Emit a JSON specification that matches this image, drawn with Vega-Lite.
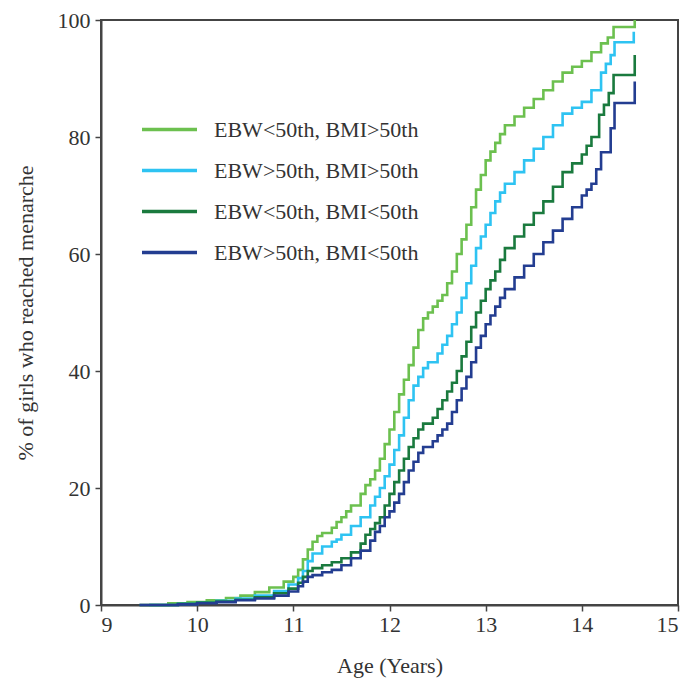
{
  "$schema": "https://vega.github.io/schema/vega-lite/v6.json",
  "width": 577,
  "height": 585,
  "autosize": {"type": "none"},
  "padding": {"left": 101, "top": 20, "right": 7, "bottom": 78},
  "background": "white",
  "config": {
    "view": {"stroke": "#444", "strokeWidth": 2},
    "axis": {
      "grid": false,
      "labelFont": "Liberation Serif",
      "titleFont": "Liberation Serif",
      "labelFontSize": 22,
      "titleFontSize": 22,
      "titleFontWeight": "normal",
      "labelColor": "#333",
      "titleColor": "#333",
      "domainColor": "#444",
      "domainWidth": 2,
      "tickColor": "#444",
      "tickWidth": 1.5,
      "tickSize": 6
    },
    "legend": {
      "orient": "none",
      "legendX": 39,
      "legendY": 80,
      "symbolType": "stroke",
      "symbolSize": 3025,
      "symbolStrokeWidth": 3.5,
      "labelFont": "Liberation Serif",
      "labelFontSize": 22,
      "labelColor": "#333",
      "labelLimit": 500,
      "rowPadding": -14,
      "labelOffset": 15
    }
  },
  "data": {
    "values": [
      {"g": "EBW<50th, BMI>50th", "age": 9.5, "pct": 0},
      {"g": "EBW<50th, BMI>50th", "age": 9.7, "pct": 0.3},
      {"g": "EBW<50th, BMI>50th", "age": 9.9, "pct": 0.5},
      {"g": "EBW<50th, BMI>50th", "age": 10.1, "pct": 0.8},
      {"g": "EBW<50th, BMI>50th", "age": 10.3, "pct": 1.2},
      {"g": "EBW<50th, BMI>50th", "age": 10.45, "pct": 1.6},
      {"g": "EBW<50th, BMI>50th", "age": 10.6, "pct": 2.2},
      {"g": "EBW<50th, BMI>50th", "age": 10.75, "pct": 3.0},
      {"g": "EBW<50th, BMI>50th", "age": 10.9, "pct": 4.0},
      {"g": "EBW<50th, BMI>50th", "age": 11.0, "pct": 4.8},
      {"g": "EBW<50th, BMI>50th", "age": 11.05, "pct": 6},
      {"g": "EBW<50th, BMI>50th", "age": 11.1, "pct": 7.8},
      {"g": "EBW<50th, BMI>50th", "age": 11.15, "pct": 9.5},
      {"g": "EBW<50th, BMI>50th", "age": 11.2, "pct": 10.8},
      {"g": "EBW<50th, BMI>50th", "age": 11.25, "pct": 11.8},
      {"g": "EBW<50th, BMI>50th", "age": 11.3, "pct": 12.3},
      {"g": "EBW<50th, BMI>50th", "age": 11.4, "pct": 13.2},
      {"g": "EBW<50th, BMI>50th", "age": 11.45, "pct": 14.2},
      {"g": "EBW<50th, BMI>50th", "age": 11.5, "pct": 15},
      {"g": "EBW<50th, BMI>50th", "age": 11.55, "pct": 16},
      {"g": "EBW<50th, BMI>50th", "age": 11.6, "pct": 17},
      {"g": "EBW<50th, BMI>50th", "age": 11.7, "pct": 19},
      {"g": "EBW<50th, BMI>50th", "age": 11.75, "pct": 20.5},
      {"g": "EBW<50th, BMI>50th", "age": 11.8, "pct": 21.5},
      {"g": "EBW<50th, BMI>50th", "age": 11.85, "pct": 23},
      {"g": "EBW<50th, BMI>50th", "age": 11.9, "pct": 25},
      {"g": "EBW<50th, BMI>50th", "age": 11.95, "pct": 27.5},
      {"g": "EBW<50th, BMI>50th", "age": 12.0, "pct": 30},
      {"g": "EBW<50th, BMI>50th", "age": 12.05, "pct": 33},
      {"g": "EBW<50th, BMI>50th", "age": 12.1, "pct": 36},
      {"g": "EBW<50th, BMI>50th", "age": 12.15, "pct": 38.5},
      {"g": "EBW<50th, BMI>50th", "age": 12.2, "pct": 41},
      {"g": "EBW<50th, BMI>50th", "age": 12.25, "pct": 44},
      {"g": "EBW<50th, BMI>50th", "age": 12.3, "pct": 47},
      {"g": "EBW<50th, BMI>50th", "age": 12.35, "pct": 49},
      {"g": "EBW<50th, BMI>50th", "age": 12.4, "pct": 50},
      {"g": "EBW<50th, BMI>50th", "age": 12.45, "pct": 51},
      {"g": "EBW<50th, BMI>50th", "age": 12.5, "pct": 52},
      {"g": "EBW<50th, BMI>50th", "age": 12.55, "pct": 53},
      {"g": "EBW<50th, BMI>50th", "age": 12.6, "pct": 55},
      {"g": "EBW<50th, BMI>50th", "age": 12.65, "pct": 57},
      {"g": "EBW<50th, BMI>50th", "age": 12.7, "pct": 60},
      {"g": "EBW<50th, BMI>50th", "age": 12.75, "pct": 62.5},
      {"g": "EBW<50th, BMI>50th", "age": 12.8, "pct": 65},
      {"g": "EBW<50th, BMI>50th", "age": 12.85, "pct": 68},
      {"g": "EBW<50th, BMI>50th", "age": 12.9, "pct": 71},
      {"g": "EBW<50th, BMI>50th", "age": 12.95, "pct": 73.5},
      {"g": "EBW<50th, BMI>50th", "age": 13.0, "pct": 76},
      {"g": "EBW<50th, BMI>50th", "age": 13.05, "pct": 77.5},
      {"g": "EBW<50th, BMI>50th", "age": 13.1, "pct": 79},
      {"g": "EBW<50th, BMI>50th", "age": 13.15, "pct": 80.5},
      {"g": "EBW<50th, BMI>50th", "age": 13.2, "pct": 82},
      {"g": "EBW<50th, BMI>50th", "age": 13.3, "pct": 83.5},
      {"g": "EBW<50th, BMI>50th", "age": 13.4, "pct": 85},
      {"g": "EBW<50th, BMI>50th", "age": 13.5, "pct": 86.5},
      {"g": "EBW<50th, BMI>50th", "age": 13.6, "pct": 88},
      {"g": "EBW<50th, BMI>50th", "age": 13.7, "pct": 89.5},
      {"g": "EBW<50th, BMI>50th", "age": 13.8, "pct": 91},
      {"g": "EBW<50th, BMI>50th", "age": 13.9, "pct": 92},
      {"g": "EBW<50th, BMI>50th", "age": 14.0, "pct": 93},
      {"g": "EBW<50th, BMI>50th", "age": 14.1, "pct": 94.5},
      {"g": "EBW<50th, BMI>50th", "age": 14.2, "pct": 96},
      {"g": "EBW<50th, BMI>50th", "age": 14.27, "pct": 97},
      {"g": "EBW<50th, BMI>50th", "age": 14.33, "pct": 98.8},
      {"g": "EBW<50th, BMI>50th", "age": 14.55, "pct": 100},

      {"g": "EBW>50th, BMI>50th", "age": 9.5, "pct": 0},
      {"g": "EBW>50th, BMI>50th", "age": 9.8, "pct": 0.2},
      {"g": "EBW>50th, BMI>50th", "age": 10.0, "pct": 0.4},
      {"g": "EBW>50th, BMI>50th", "age": 10.2, "pct": 0.7},
      {"g": "EBW>50th, BMI>50th", "age": 10.4, "pct": 1.1},
      {"g": "EBW>50th, BMI>50th", "age": 10.6, "pct": 1.6},
      {"g": "EBW>50th, BMI>50th", "age": 10.8, "pct": 2.4},
      {"g": "EBW>50th, BMI>50th", "age": 10.95, "pct": 3.5},
      {"g": "EBW>50th, BMI>50th", "age": 11.05, "pct": 4.6},
      {"g": "EBW>50th, BMI>50th", "age": 11.1, "pct": 5.8},
      {"g": "EBW>50th, BMI>50th", "age": 11.15, "pct": 7.5},
      {"g": "EBW>50th, BMI>50th", "age": 11.2, "pct": 8.8},
      {"g": "EBW>50th, BMI>50th", "age": 11.3, "pct": 10},
      {"g": "EBW>50th, BMI>50th", "age": 11.4, "pct": 10.8},
      {"g": "EBW>50th, BMI>50th", "age": 11.45, "pct": 11.2},
      {"g": "EBW>50th, BMI>50th", "age": 11.5, "pct": 12},
      {"g": "EBW>50th, BMI>50th", "age": 11.6, "pct": 13.5},
      {"g": "EBW>50th, BMI>50th", "age": 11.7, "pct": 15},
      {"g": "EBW>50th, BMI>50th", "age": 11.8, "pct": 17},
      {"g": "EBW>50th, BMI>50th", "age": 11.85, "pct": 18.5},
      {"g": "EBW>50th, BMI>50th", "age": 11.9, "pct": 20},
      {"g": "EBW>50th, BMI>50th", "age": 11.95, "pct": 22},
      {"g": "EBW>50th, BMI>50th", "age": 12.0, "pct": 24},
      {"g": "EBW>50th, BMI>50th", "age": 12.05, "pct": 26.5},
      {"g": "EBW>50th, BMI>50th", "age": 12.1, "pct": 29},
      {"g": "EBW>50th, BMI>50th", "age": 12.15, "pct": 32},
      {"g": "EBW>50th, BMI>50th", "age": 12.2, "pct": 35},
      {"g": "EBW>50th, BMI>50th", "age": 12.25, "pct": 37.5},
      {"g": "EBW>50th, BMI>50th", "age": 12.3, "pct": 39},
      {"g": "EBW>50th, BMI>50th", "age": 12.35, "pct": 40.5},
      {"g": "EBW>50th, BMI>50th", "age": 12.4, "pct": 41.5},
      {"g": "EBW>50th, BMI>50th", "age": 12.5, "pct": 43},
      {"g": "EBW>50th, BMI>50th", "age": 12.55, "pct": 44.5},
      {"g": "EBW>50th, BMI>50th", "age": 12.6, "pct": 46},
      {"g": "EBW>50th, BMI>50th", "age": 12.65, "pct": 48},
      {"g": "EBW>50th, BMI>50th", "age": 12.7, "pct": 50},
      {"g": "EBW>50th, BMI>50th", "age": 12.75, "pct": 52.5},
      {"g": "EBW>50th, BMI>50th", "age": 12.8, "pct": 55},
      {"g": "EBW>50th, BMI>50th", "age": 12.85, "pct": 58},
      {"g": "EBW>50th, BMI>50th", "age": 12.9, "pct": 61},
      {"g": "EBW>50th, BMI>50th", "age": 12.95, "pct": 63},
      {"g": "EBW>50th, BMI>50th", "age": 13.0, "pct": 65},
      {"g": "EBW>50th, BMI>50th", "age": 13.05, "pct": 67},
      {"g": "EBW>50th, BMI>50th", "age": 13.1, "pct": 69},
      {"g": "EBW>50th, BMI>50th", "age": 13.15, "pct": 70.5},
      {"g": "EBW>50th, BMI>50th", "age": 13.2, "pct": 72},
      {"g": "EBW>50th, BMI>50th", "age": 13.3, "pct": 74},
      {"g": "EBW>50th, BMI>50th", "age": 13.4, "pct": 76},
      {"g": "EBW>50th, BMI>50th", "age": 13.5, "pct": 78},
      {"g": "EBW>50th, BMI>50th", "age": 13.6, "pct": 80},
      {"g": "EBW>50th, BMI>50th", "age": 13.7, "pct": 82},
      {"g": "EBW>50th, BMI>50th", "age": 13.8, "pct": 84},
      {"g": "EBW>50th, BMI>50th", "age": 13.9, "pct": 85},
      {"g": "EBW>50th, BMI>50th", "age": 14.0, "pct": 86},
      {"g": "EBW>50th, BMI>50th", "age": 14.1, "pct": 88},
      {"g": "EBW>50th, BMI>50th", "age": 14.2, "pct": 91},
      {"g": "EBW>50th, BMI>50th", "age": 14.25, "pct": 92.5},
      {"g": "EBW>50th, BMI>50th", "age": 14.3, "pct": 94},
      {"g": "EBW>50th, BMI>50th", "age": 14.34, "pct": 96.2},
      {"g": "EBW>50th, BMI>50th", "age": 14.54, "pct": 98},

      {"g": "EBW<50th, BMI<50th", "age": 9.4, "pct": 0},
      {"g": "EBW<50th, BMI<50th", "age": 9.8, "pct": 0.2},
      {"g": "EBW<50th, BMI<50th", "age": 10.0, "pct": 0.4},
      {"g": "EBW<50th, BMI<50th", "age": 10.2, "pct": 0.6},
      {"g": "EBW<50th, BMI<50th", "age": 10.4, "pct": 0.9},
      {"g": "EBW<50th, BMI<50th", "age": 10.6, "pct": 1.3},
      {"g": "EBW<50th, BMI<50th", "age": 10.8, "pct": 2},
      {"g": "EBW<50th, BMI<50th", "age": 10.95, "pct": 2.8},
      {"g": "EBW<50th, BMI<50th", "age": 11.05, "pct": 3.8},
      {"g": "EBW<50th, BMI<50th", "age": 11.1, "pct": 4.8},
      {"g": "EBW<50th, BMI<50th", "age": 11.15, "pct": 5.8},
      {"g": "EBW<50th, BMI<50th", "age": 11.2, "pct": 6.3},
      {"g": "EBW<50th, BMI<50th", "age": 11.3, "pct": 6.8},
      {"g": "EBW<50th, BMI<50th", "age": 11.4, "pct": 7.3},
      {"g": "EBW<50th, BMI<50th", "age": 11.5, "pct": 8},
      {"g": "EBW<50th, BMI<50th", "age": 11.6, "pct": 9},
      {"g": "EBW<50th, BMI<50th", "age": 11.7, "pct": 10.5},
      {"g": "EBW<50th, BMI<50th", "age": 11.75, "pct": 12},
      {"g": "EBW<50th, BMI<50th", "age": 11.8, "pct": 13},
      {"g": "EBW<50th, BMI<50th", "age": 11.85, "pct": 14},
      {"g": "EBW<50th, BMI<50th", "age": 11.9, "pct": 15},
      {"g": "EBW<50th, BMI<50th", "age": 11.95, "pct": 17},
      {"g": "EBW<50th, BMI<50th", "age": 12.0, "pct": 19},
      {"g": "EBW<50th, BMI<50th", "age": 12.05, "pct": 21},
      {"g": "EBW<50th, BMI<50th", "age": 12.1, "pct": 23},
      {"g": "EBW<50th, BMI<50th", "age": 12.15, "pct": 25},
      {"g": "EBW<50th, BMI<50th", "age": 12.2, "pct": 27},
      {"g": "EBW<50th, BMI<50th", "age": 12.25, "pct": 28.5},
      {"g": "EBW<50th, BMI<50th", "age": 12.3, "pct": 30},
      {"g": "EBW<50th, BMI<50th", "age": 12.35, "pct": 31},
      {"g": "EBW<50th, BMI<50th", "age": 12.45, "pct": 32},
      {"g": "EBW<50th, BMI<50th", "age": 12.5, "pct": 33.5},
      {"g": "EBW<50th, BMI<50th", "age": 12.55, "pct": 35},
      {"g": "EBW<50th, BMI<50th", "age": 12.6, "pct": 36.5},
      {"g": "EBW<50th, BMI<50th", "age": 12.65, "pct": 38},
      {"g": "EBW<50th, BMI<50th", "age": 12.7, "pct": 40},
      {"g": "EBW<50th, BMI<50th", "age": 12.75, "pct": 42.5},
      {"g": "EBW<50th, BMI<50th", "age": 12.8, "pct": 45},
      {"g": "EBW<50th, BMI<50th", "age": 12.85, "pct": 47.5},
      {"g": "EBW<50th, BMI<50th", "age": 12.9, "pct": 50},
      {"g": "EBW<50th, BMI<50th", "age": 12.95, "pct": 52},
      {"g": "EBW<50th, BMI<50th", "age": 13.0, "pct": 54},
      {"g": "EBW<50th, BMI<50th", "age": 13.05, "pct": 55.5},
      {"g": "EBW<50th, BMI<50th", "age": 13.1, "pct": 57},
      {"g": "EBW<50th, BMI<50th", "age": 13.15, "pct": 59},
      {"g": "EBW<50th, BMI<50th", "age": 13.2, "pct": 61},
      {"g": "EBW<50th, BMI<50th", "age": 13.3, "pct": 63},
      {"g": "EBW<50th, BMI<50th", "age": 13.4, "pct": 65},
      {"g": "EBW<50th, BMI<50th", "age": 13.5, "pct": 67},
      {"g": "EBW<50th, BMI<50th", "age": 13.6, "pct": 69},
      {"g": "EBW<50th, BMI<50th", "age": 13.7, "pct": 71.5},
      {"g": "EBW<50th, BMI<50th", "age": 13.8, "pct": 74},
      {"g": "EBW<50th, BMI<50th", "age": 13.9, "pct": 75.5},
      {"g": "EBW<50th, BMI<50th", "age": 14.0, "pct": 77},
      {"g": "EBW<50th, BMI<50th", "age": 14.05, "pct": 78.5},
      {"g": "EBW<50th, BMI<50th", "age": 14.1, "pct": 80},
      {"g": "EBW<50th, BMI<50th", "age": 14.18, "pct": 83.8},
      {"g": "EBW<50th, BMI<50th", "age": 14.23, "pct": 85.5},
      {"g": "EBW<50th, BMI<50th", "age": 14.28, "pct": 87.5},
      {"g": "EBW<50th, BMI<50th", "age": 14.33, "pct": 90.6},
      {"g": "EBW<50th, BMI<50th", "age": 14.55, "pct": 94},

      {"g": "EBW>50th, BMI<50th", "age": 9.4, "pct": 0},
      {"g": "EBW>50th, BMI<50th", "age": 9.8, "pct": 0.1},
      {"g": "EBW>50th, BMI<50th", "age": 10.0, "pct": 0.3},
      {"g": "EBW>50th, BMI<50th", "age": 10.2, "pct": 0.5},
      {"g": "EBW>50th, BMI<50th", "age": 10.4, "pct": 0.8},
      {"g": "EBW>50th, BMI<50th", "age": 10.6, "pct": 1.1},
      {"g": "EBW>50th, BMI<50th", "age": 10.8, "pct": 1.6},
      {"g": "EBW>50th, BMI<50th", "age": 10.95, "pct": 2.3},
      {"g": "EBW>50th, BMI<50th", "age": 11.05, "pct": 3.2},
      {"g": "EBW>50th, BMI<50th", "age": 11.1, "pct": 4},
      {"g": "EBW>50th, BMI<50th", "age": 11.15, "pct": 4.8},
      {"g": "EBW>50th, BMI<50th", "age": 11.2, "pct": 5.1},
      {"g": "EBW>50th, BMI<50th", "age": 11.3, "pct": 5.6},
      {"g": "EBW>50th, BMI<50th", "age": 11.4, "pct": 6},
      {"g": "EBW>50th, BMI<50th", "age": 11.5, "pct": 6.8},
      {"g": "EBW>50th, BMI<50th", "age": 11.6, "pct": 8},
      {"g": "EBW>50th, BMI<50th", "age": 11.7, "pct": 9.3},
      {"g": "EBW>50th, BMI<50th", "age": 11.8, "pct": 11},
      {"g": "EBW>50th, BMI<50th", "age": 11.85, "pct": 12.5},
      {"g": "EBW>50th, BMI<50th", "age": 11.9, "pct": 13.5},
      {"g": "EBW>50th, BMI<50th", "age": 11.95, "pct": 15},
      {"g": "EBW>50th, BMI<50th", "age": 12.0, "pct": 16},
      {"g": "EBW>50th, BMI<50th", "age": 12.05, "pct": 17.5},
      {"g": "EBW>50th, BMI<50th", "age": 12.1, "pct": 19},
      {"g": "EBW>50th, BMI<50th", "age": 12.15, "pct": 21},
      {"g": "EBW>50th, BMI<50th", "age": 12.2, "pct": 23},
      {"g": "EBW>50th, BMI<50th", "age": 12.25, "pct": 24.5},
      {"g": "EBW>50th, BMI<50th", "age": 12.3, "pct": 26},
      {"g": "EBW>50th, BMI<50th", "age": 12.35, "pct": 27},
      {"g": "EBW>50th, BMI<50th", "age": 12.45, "pct": 28},
      {"g": "EBW>50th, BMI<50th", "age": 12.5, "pct": 29},
      {"g": "EBW>50th, BMI<50th", "age": 12.55, "pct": 30},
      {"g": "EBW>50th, BMI<50th", "age": 12.6, "pct": 31},
      {"g": "EBW>50th, BMI<50th", "age": 12.65, "pct": 33},
      {"g": "EBW>50th, BMI<50th", "age": 12.7, "pct": 35},
      {"g": "EBW>50th, BMI<50th", "age": 12.75, "pct": 37},
      {"g": "EBW>50th, BMI<50th", "age": 12.8, "pct": 39},
      {"g": "EBW>50th, BMI<50th", "age": 12.85, "pct": 41.5},
      {"g": "EBW>50th, BMI<50th", "age": 12.9, "pct": 44},
      {"g": "EBW>50th, BMI<50th", "age": 12.95, "pct": 46},
      {"g": "EBW>50th, BMI<50th", "age": 13.0, "pct": 48},
      {"g": "EBW>50th, BMI<50th", "age": 13.05, "pct": 49.5},
      {"g": "EBW>50th, BMI<50th", "age": 13.1, "pct": 51},
      {"g": "EBW>50th, BMI<50th", "age": 13.15, "pct": 52.5},
      {"g": "EBW>50th, BMI<50th", "age": 13.2, "pct": 54},
      {"g": "EBW>50th, BMI<50th", "age": 13.3, "pct": 56},
      {"g": "EBW>50th, BMI<50th", "age": 13.4, "pct": 58},
      {"g": "EBW>50th, BMI<50th", "age": 13.5, "pct": 60},
      {"g": "EBW>50th, BMI<50th", "age": 13.6, "pct": 62},
      {"g": "EBW>50th, BMI<50th", "age": 13.7, "pct": 64},
      {"g": "EBW>50th, BMI<50th", "age": 13.8, "pct": 66},
      {"g": "EBW>50th, BMI<50th", "age": 13.9, "pct": 68},
      {"g": "EBW>50th, BMI<50th", "age": 14.0, "pct": 70},
      {"g": "EBW>50th, BMI<50th", "age": 14.05, "pct": 71},
      {"g": "EBW>50th, BMI<50th", "age": 14.1, "pct": 72},
      {"g": "EBW>50th, BMI<50th", "age": 14.15, "pct": 74.5},
      {"g": "EBW>50th, BMI<50th", "age": 14.2, "pct": 77.4},
      {"g": "EBW>50th, BMI<50th", "age": 14.3, "pct": 81.5},
      {"g": "EBW>50th, BMI<50th", "age": 14.34, "pct": 85.8},
      {"g": "EBW>50th, BMI<50th", "age": 14.55, "pct": 89.5}
    ]
  },
  "mark": {"type": "line", "interpolate": "step-after", "strokeWidth": 2.6},
  "encoding": {
    "x": {
      "field": "age",
      "type": "quantitative",
      "scale": {"domain": [9, 15], "nice": false},
      "axis": {"values": [9, 10, 11, 12, 13, 14, 15], "title": "Age (Years)", "labelPadding": 3, "titlePadding": 20}
    },
    "y": {
      "field": "pct",
      "type": "quantitative",
      "scale": {"domain": [0, 100], "nice": false},
      "axis": {"values": [0, 20, 40, 60, 80, 100], "title": "% of girls who reached menarche", "labelPadding": 5, "titlePadding": 20}
    },
    "color": {
      "field": "g",
      "type": "nominal",
      "sort": ["EBW<50th, BMI>50th", "EBW>50th, BMI>50th", "EBW<50th, BMI<50th", "EBW>50th, BMI<50th"],
      "scale": {
        "domain": ["EBW<50th, BMI>50th", "EBW>50th, BMI>50th", "EBW<50th, BMI<50th", "EBW>50th, BMI<50th"],
        "range": ["#6cc04f", "#2ec3f2", "#1a7a3e", "#233d91"]
      },
      "legend": {"title": null}
    }
  }
}
